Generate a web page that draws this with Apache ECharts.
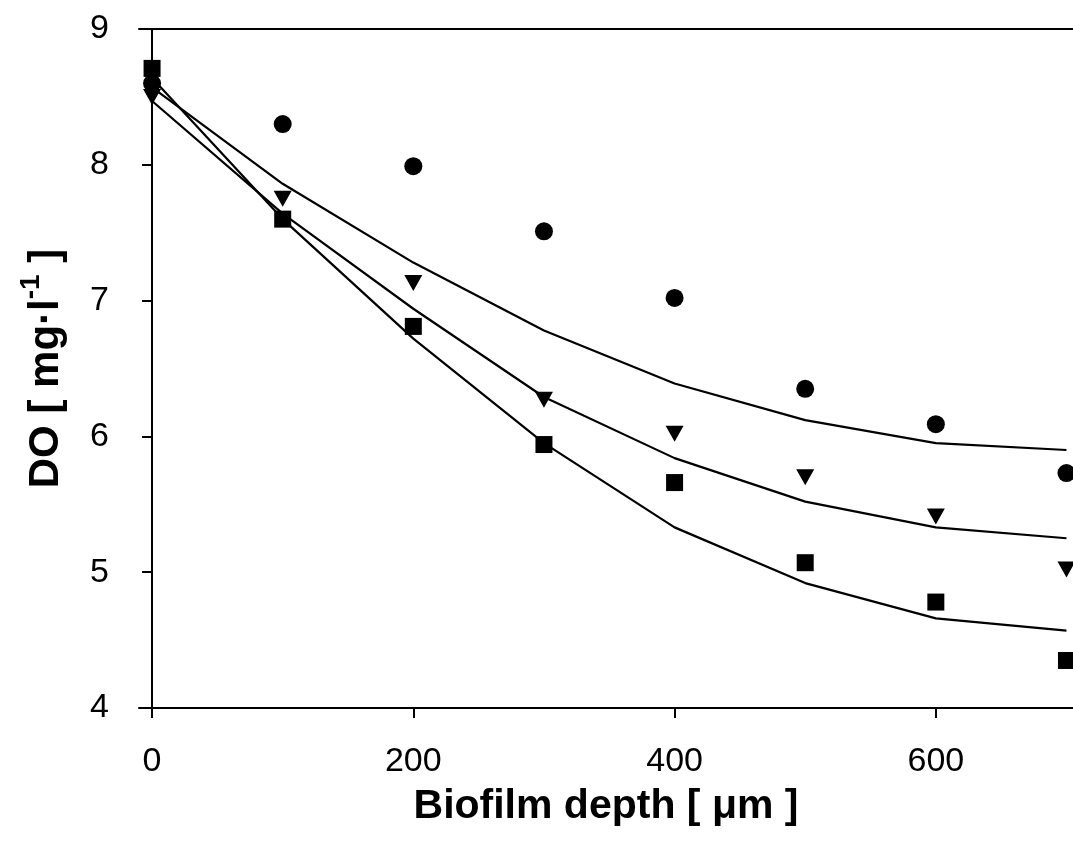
<!DOCTYPE html>
<html>
<head>
<meta charset="utf-8">
<script src="https://cdn.jsdelivr.net/npm/echarts@6/dist/echarts.min.js"></script>
<style>
html,body{margin:0;padding:0;background:#fff;}
#chart{width:1073px;height:852px;}
</style>
</head>
<body>
<div id="chart"></div>
<script>
// Data
var depth = [0, 100, 200, 300, 400, 500, 600, 700];
var doCircle   = [8.60, 8.30, 7.99, 7.51, 7.02, 6.35, 6.09, 5.73];
var doTriangle = [8.50, 7.75, 7.13, 6.27, 6.02, 5.70, 5.41, 5.02];
var doSquare   = [8.71, 7.60, 6.81, 5.94, 5.66, 5.07, 4.78, 4.35];
var fitCircle   = [8.57, 7.86, 7.28, 6.78, 6.39, 6.12, 5.95, 5.90];
var fitTriangle = [8.47, 7.64, 6.94, 6.29, 5.84, 5.52, 5.33, 5.25];
var fitSquare   = [8.64, 7.60, 6.72, 5.95, 5.33, 4.92, 4.66, 4.57];
var xTicks = [0, 200, 400, 600];
var yTicks = [4, 5, 6, 7, 8, 9];
var xTitle = 'Biofilm depth [ \u03bcm ]';
var yTitleMain = 'DO [ mg\u00b7l';
var yTitleSup = '-1';
var yTitleEnd = ' ]';

function pairs(xs, ys) { return xs.map(function (x, i) { return [x, ys[i]]; }); }

var FONT = '"Liberation Sans", Arial, sans-serif';
var chart = echarts.init(document.getElementById('chart'), null, {renderer: 'canvas'});

var scatterBase = {
  type: 'scatter',
  itemStyle: {color: '#000', opacity: 1},
  z: 5,
  clip: false,
  silent: true
};
var lineBase = {
  type: 'line',
  symbol: 'none',
  smooth: false,
  lineStyle: {color: '#000', width: 2.2},
  z: 4,
  silent: true
};

chart.setOption({
  animation: false,
  backgroundColor: '#fff',
  grid: {left: 139, right: 0, top: 29, bottom: 144, containLabel: false},
  xAxis: [{
    type: 'value',
    min: -10,
    max: 705,
    position: 'bottom',
    name: xTitle,
    nameLocation: 'middle',
    nameGap: 78,
    nameTextStyle: {fontFamily: FONT, fontSize: 41, fontWeight: 'bold', color: '#000'},
    axisLine: {show: true, lineStyle: {color: '#000', width: 2}},
    axisTick: {show: true, inside: false, length: 10, lineStyle: {color: '#000', width: 2}, customValues: xTicks},
    axisLabel: {show: true, margin: 37, fontFamily: FONT, fontSize: 34, color: '#000', customValues: xTicks},
    splitLine: {show: false}
  }, {
    type: 'value',
    min: -10,
    max: 705,
    position: 'top',
    axisLine: {show: true, lineStyle: {color: '#000', width: 2}},
    axisTick: {show: false},
    axisLabel: {show: false},
    splitLine: {show: false}
  }],
  yAxis: [{
    type: 'value',
    min: 4,
    max: 9,
    interval: 1,
    name: '{m|' + yTitleMain + '}{s|' + yTitleSup + '}{m|' + yTitleEnd + '}',
    nameLocation: 'middle',
    nameGap: 72,
    nameTextStyle: {
      fontFamily: FONT, fontSize: 42, fontWeight: 'bold', color: '#000',
      rich: {
        m: {fontFamily: FONT, fontSize: 42, fontWeight: 'bold', color: '#000', lineHeight: 50, verticalAlign: 'bottom'},
        s: {fontFamily: FONT, fontSize: 28, fontWeight: 'bold', color: '#000', lineHeight: 50, verticalAlign: 'top', padding: [0, 0, 16, 0]}
      }
    },
    axisLine: {show: true, lineStyle: {color: '#000', width: 2}},
    axisTick: {show: true, inside: false, length: 10, lineStyle: {color: '#000', width: 2}},
    axisLabel: {show: true, margin: 30, fontFamily: FONT, fontSize: 34, color: '#000'},
    splitLine: {show: false}
  }],
  series: [
    Object.assign({}, lineBase, {name: 'fit circle', data: pairs(depth, fitCircle)}),
    Object.assign({}, lineBase, {name: 'fit triangle', data: pairs(depth, fitTriangle)}),
    Object.assign({}, lineBase, {name: 'fit square', data: pairs(depth, fitSquare)}),
    Object.assign({}, scatterBase, {name: 'circle', symbol: 'circle', symbolSize: 18, data: pairs(depth, doCircle)}),
    Object.assign({}, scatterBase, {name: 'triangle', symbol: 'triangle', symbolSize: [18, 16], symbolRotate: 180, data: pairs(depth, doTriangle)}),
    Object.assign({}, scatterBase, {name: 'square', symbol: 'rect', symbolSize: 17, data: pairs(depth, doSquare)})
  ]
});
</script>
</body>
</html>
